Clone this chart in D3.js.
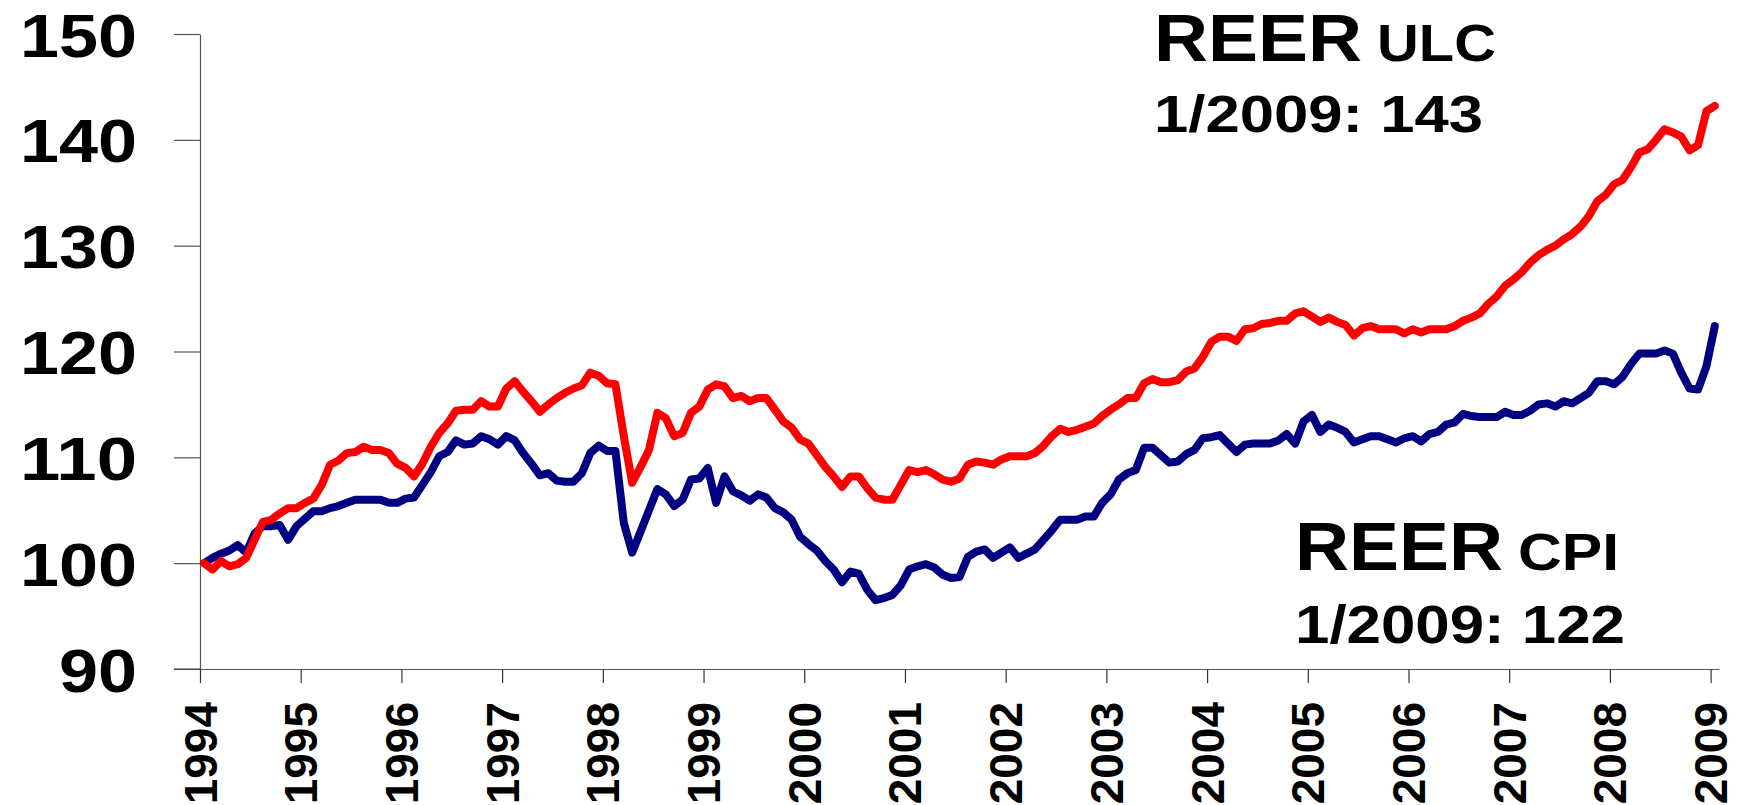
<!DOCTYPE html>
<html>
<head>
<meta charset="utf-8">
<script src="https://cdn.jsdelivr.net/npm/d3@7"></script>
<style>
  html, body { margin: 0; padding: 0; background: #fff; }
  svg { display: block; }
  text { font-family: "Liberation Sans", Arial, sans-serif; font-weight: bold; fill: #000; }
</style>
</head>
<body>
<svg id="vis" width="1739" height="805"></svg>
<script>
// monthly, Jan 1994 .. Jan 2009 (181 points)
const startYear = 1994;
const yearTicks = [1994, 1995, 1996, 1997, 1998, 1999, 2000, 2001, 2002, 2003, 2004, 2005, 2006, 2007, 2008, 2009];
const valueTicks = [90, 100, 110, 120, 130, 140, 150];

const reerUlc = [
  100.0, 99.4, 100.2, 99.7, 99.9, 100.5, 102.2, 103.9, 104.1, 104.7, 105.2, 105.2,
  105.7, 106.1, 107.4, 109.3, 109.7, 110.4, 110.5, 111.0, 110.7, 110.7, 110.4, 109.4,
  109.0, 108.2, 109.4, 111.0, 112.3, 113.2, 114.4, 114.5, 114.5, 115.3, 114.8, 114.8,
  116.5, 117.2, 116.2, 115.3, 114.3, 115.0, 115.6, 116.1, 116.5, 116.8, 118.0, 117.7,
  117.0, 116.9, 112.0, 107.6, 109.1, 110.7, 114.2, 113.7, 112.0, 112.3, 114.2, 114.8,
  116.4, 116.9, 116.7, 115.6, 115.8, 115.3, 115.6, 115.6, 114.5, 113.4, 112.8, 111.7,
  111.3, 110.2, 109.1, 108.2, 107.2, 108.2, 108.2, 107.1, 106.2, 106.0, 106.0, 107.4,
  108.8, 108.6, 108.8, 108.4, 107.9, 107.7, 108.0, 109.3, 109.6, 109.5, 109.3, 109.8,
  110.1, 110.1, 110.1, 110.4, 111.1, 112.0, 112.7, 112.4, 112.6, 112.9, 113.2, 113.9,
  114.5, 115.0, 115.6, 115.6, 117.0, 117.4, 117.1, 117.1, 117.3, 118.1, 118.4, 119.5,
  120.9, 121.4, 121.4, 121.0, 122.1, 122.2, 122.6, 122.7, 122.9, 122.9, 123.6, 123.8,
  123.3, 122.8, 123.2, 122.8, 122.5, 121.5, 122.2, 122.4, 122.1, 122.1, 122.1, 121.7,
  122.1, 121.8, 122.1, 122.1, 122.1, 122.4, 122.9, 123.2, 123.6, 124.5, 125.2, 126.2,
  126.8, 127.5, 128.4, 129.1, 129.6, 130.0, 130.6, 131.1, 131.8, 132.8, 134.2, 134.8,
  135.8, 136.2, 137.4, 138.8, 139.1, 140.0, 141.0, 140.7, 140.3, 139.0, 139.5, 142.7,
  143.2
];

const reerCpi = [
  100.0, 100.5, 100.9, 101.2, 101.7, 101.0, 102.8, 103.5, 103.5, 103.6, 102.2, 103.5,
  104.2, 104.9, 104.9, 105.2, 105.4, 105.7, 106.0, 106.0, 106.0, 106.0, 105.7, 105.7,
  106.1, 106.2, 107.4, 108.6, 110.1, 110.5, 111.6, 111.2, 111.3, 112.0, 111.7, 111.2,
  112.0, 111.6, 110.4, 109.4, 108.3, 108.5, 107.8, 107.7, 107.7, 108.5, 110.4, 111.1,
  110.6, 110.6, 103.8, 101.0, 103.0, 105.0, 107.0, 106.5, 105.4, 106.0, 107.9, 108.0,
  109.0, 105.7, 108.2, 106.8, 106.4, 105.9, 106.5, 106.2, 105.2, 104.8, 104.1, 102.5,
  101.8, 101.2, 100.2, 99.4, 98.2, 99.2, 99.0, 97.5, 96.5, 96.7, 97.0, 97.9,
  99.4, 99.7, 99.9, 99.6, 98.9, 98.6, 98.7, 100.6, 101.1, 101.3, 100.5, 101.0,
  101.5, 100.5, 100.9, 101.3, 102.2, 103.1, 104.1, 104.1, 104.1, 104.4, 104.4, 105.7,
  106.5, 107.9, 108.5, 108.8, 110.9, 110.9, 110.2, 109.5, 109.6, 110.3, 110.7, 111.8,
  111.9, 112.1, 111.3, 110.5, 111.2, 111.3, 111.3, 111.3, 111.6, 112.2, 111.3, 113.4,
  114.0, 112.4, 113.1, 112.8, 112.4, 111.4, 111.7, 112.0, 112.0, 111.7, 111.4, 111.8,
  112.0, 111.5, 112.2, 112.4, 113.1, 113.3, 114.1, 113.9, 113.8, 113.8, 113.8, 114.3,
  114.0, 114.0, 114.4, 115.0, 115.1, 114.8, 115.3, 115.1, 115.6, 116.1, 117.2, 117.2,
  116.9, 117.6, 118.8, 119.8, 119.8, 119.8, 120.1, 119.8, 118.0, 116.5, 116.4, 118.6,
  122.4
];

const svg = d3.select('#vis');

// category axis: one slot per month, points drawn in the middle of the slot
const x = d3.scaleLinear()
  .domain([0, reerUlc.length])
  .range([200, 1719]);

const y = d3.scaleLinear()
  .domain([90, 150])
  .range([669, 34]);

const axisColor = '#555';

// y axis
const yAxis = svg.append('g')
  .attr('transform', 'translate(200,0)')
  .call(d3.axisLeft(y).tickValues(valueTicks).tickSize(26).tickSizeOuter(0).tickPadding(0));
yAxis.select('.domain').attr('stroke', axisColor).attr('stroke-width', 1.2);
yAxis.selectAll('.tick line').attr('stroke', axisColor).attr('stroke-width', 1.2);
yAxis.selectAll('.tick text')
  .attr('x', -63)
  .attr('dy', null)
  .attr('y', 22)
  .attr('text-anchor', 'end')
  .attr('textLength', d => String(d).length * 39)
  .attr('lengthAdjust', 'spacingAndGlyphs')
  .style('font-size', '62px')
  .style('font-family', '"Liberation Sans", Arial, sans-serif')
  .style('font-weight', 'bold');

// x axis
const xAxis = svg.append('g')
  .attr('transform', 'translate(0,669)')
  .call(d3.axisBottom(x)
    .tickValues(yearTicks.map(yr => (yr - startYear) * 12))
    .tickFormat(d => startYear + d / 12)
    .tickSize(14)
    .tickSizeOuter(0));
xAxis.select('.domain').attr('stroke', axisColor).attr('stroke-width', 1.2);
xAxis.selectAll('.tick line').attr('stroke', '#333').attr('stroke-width', 1.2);
xAxis.selectAll('.tick text')
  .attr('y', null)
  .attr('dy', null)
  .attr('text-anchor', 'end')
  .attr('transform', 'translate(16,33) rotate(-90)')
  .style('font-size', '46px')
  .style('font-family', '"Liberation Sans", Arial, sans-serif')
  .style('font-weight', 'bold');

// horizontal stub for 90 on the left of the y axis
svg.append('line')
  .attr('x1', 174).attr('x2', 200)
  .attr('y1', y(90)).attr('y2', y(90))
  .attr('stroke', axisColor).attr('stroke-width', 1.2);

const line = d3.line()
  .x((d, i) => x(i + 0.5))
  .y(d => y(d));

svg.append('path')
  .datum(reerCpi)
  .attr('d', line)
  .attr('fill', 'none')
  .attr('stroke', '#000080')
  .attr('stroke-width', 8)
  .attr('stroke-linejoin', 'round')
  .attr('stroke-linecap', 'round');

svg.append('path')
  .datum(reerUlc)
  .attr('d', line)
  .attr('fill', 'none')
  .attr('stroke', '#ff0000')
  .attr('stroke-width', 8)
  .attr('stroke-linejoin', 'round')
  .attr('stroke-linecap', 'round');

// annotations: glyphs stretched horizontally to the measured width
function label(xPos, yPos, txt, size, width) {
  const t = svg.append('text')
    .style('font-size', size + 'px')
    .text(txt);
  const natural = t.node().getComputedTextLength();
  t.attr('transform', 'translate(' + xPos + ',' + yPos + ') scale(' + (width / natural) + ',1)');
}

label(1154, 61, 'REER', 67, 208);
label(1377, 61, 'ULC', 52, 119);
label(1154, 132, '1/2009: ' + d3.format('.0f')(reerUlc[reerUlc.length - 1]), 52, 329);

label(1295, 570, 'REER', 68, 208);
label(1518, 570, 'CPI', 51, 101);
label(1295, 643, '1/2009: ' + d3.format('.0f')(reerCpi[reerCpi.length - 1]), 54, 330);
</script>
</body>
</html>
